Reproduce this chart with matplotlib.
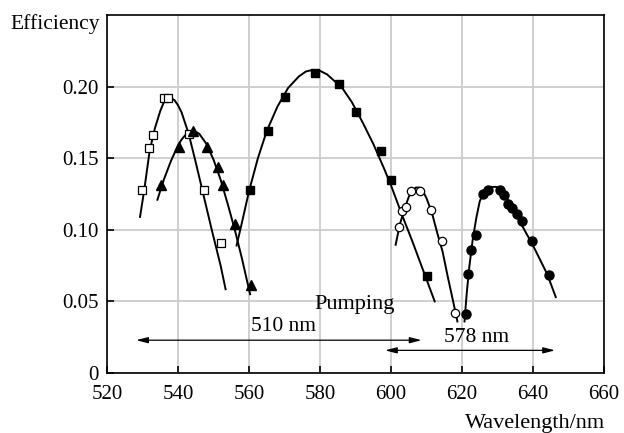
import matplotlib
matplotlib.use("Agg")
import matplotlib.pyplot as plt

plt.rcParams['font.family'] = ['Liberation Serif', 'DejaVu Serif']

# open squares
sq_open_x = [529.9, 531.9, 533.0, 536.1, 537.3, 543.0, 547.2, 552.0]
sq_open_y = [0.128, 0.157, 0.166, 0.192, 0.192, 0.167, 0.128, 0.091]
sq_open_cx = [529.3, 530.5, 532.0, 533.5, 535.0, 536.0, 537.0, 538.0, 539.0, 540.0, 541.0,
              543.0, 545.0, 547.2, 549.5, 552.0, 553.4]
sq_open_cy = [0.109, 0.128, 0.155, 0.171, 0.183, 0.189, 0.1918, 0.192, 0.1905, 0.187, 0.182,
              0.167, 0.147, 0.124, 0.100, 0.075, 0.0585]

# filled triangles
tri_x = [535.3, 540.2, 544.3, 548.3, 551.2, 552.8, 556.0, 560.5]
tri_y = [0.131, 0.158, 0.169, 0.158, 0.144, 0.131, 0.104, 0.0615]
tri_cx = [534.2, 536.0, 538.0, 540.0, 541.0, 542.0, 543.0, 544.0, 545.0, 546.0, 548.0, 550.0,
          552.0, 554.0, 556.0, 558.0, 560.3]
tri_cy = [0.121, 0.135, 0.148, 0.159, 0.163, 0.166, 0.168, 0.169, 0.1685, 0.167, 0.160, 0.149,
          0.135, 0.118, 0.100, 0.080, 0.055]

# filled squares
sq_x = [560.3, 565.3, 570.1, 578.5, 585.3, 590.1, 597.3, 600.0, 610.1]
sq_y = [0.128, 0.169, 0.193, 0.2095, 0.202, 0.1825, 0.155, 0.135, 0.0674]
sq_cx = [556.5, 558.0, 560.0, 562.5, 565.0, 568.0, 571.0, 574.0, 576.0, 578.0, 580.0, 582.0,
         584.0, 586.0, 589.0, 592.0, 595.0, 598.0, 600.0, 603.0, 606.0, 609.0, 612.3]
sq_cy = [0.089, 0.105, 0.127, 0.150, 0.169, 0.186, 0.199, 0.207, 0.2105, 0.2117, 0.211, 0.2085,
         0.204, 0.200, 0.189, 0.175, 0.160, 0.143, 0.131, 0.111, 0.092, 0.072, 0.050]

# open circles
ci_open_x = [602.3, 603.1, 604.1, 605.7, 608.3, 611.2, 614.4, 618.1]
ci_open_y = [0.1017, 0.113, 0.116, 0.127, 0.127, 0.1135, 0.092, 0.042]
ci_open_cx = [601.3, 602.5, 604.0, 605.0, 606.0, 607.0, 608.0, 609.0, 610.0, 611.5, 613.0,
              614.5, 616.0, 617.5, 618.7]
ci_open_cy = [0.0895, 0.104, 0.116, 0.123, 0.1275, 0.1295, 0.1295, 0.127, 0.122, 0.112, 0.098,
              0.085, 0.067, 0.050, 0.036]

# filled circles
ci_x = [621.1, 621.8, 622.6, 623.8, 625.8, 627.2, 630.8, 631.8, 633.0, 634.2, 635.4, 636.8, 639.7, 644.5]
ci_y = [0.041, 0.069, 0.086, 0.0965, 0.125, 0.128, 0.128, 0.124, 0.118, 0.115, 0.111, 0.106, 0.092, 0.0685]
ci_cx = [620.7, 621.3, 622.0, 623.0, 624.0, 625.0, 626.0, 627.0, 628.0, 629.5, 631.0, 632.0,
         634.0, 636.0, 638.0, 640.0, 642.0, 644.0, 646.4]
ci_cy = [0.036, 0.055, 0.073, 0.093, 0.108, 0.120, 0.1255, 0.1285, 0.1298, 0.130, 0.1285, 0.125,
         0.116, 0.107, 0.098, 0.089, 0.079, 0.069, 0.053]

x_ticks = [520, 540, 560, 580, 600, 620, 640, 660]
y_ticks = [0, 0.05, 0.10, 0.15, 0.20]
y_labels = ['0', '0.05', '0.10', '0.15', '0.20']

fig = plt.figure(figsize=(6.24, 4.33), dpi=100)
ax = fig.add_axes([0.1715, 0.1386, 0.7965, 0.8268])

lw = 1.4
for cx, cy in [(sq_open_cx, sq_open_cy), (tri_cx, tri_cy), (sq_cx, sq_cy),
               (ci_open_cx, ci_open_cy), (ci_cx, ci_cy)]:
    ax.plot(cx, cy, color='black', lw=lw, solid_joinstyle='round', zorder=3)

ax.plot(sq_open_x, sq_open_y, 's', ms=5.5, mfc='white', mec='black', mew=0.9, zorder=4)
ax.plot(tri_x, tri_y, '^', ms=7, color='black', zorder=4)
ax.plot(sq_x, sq_y, 's', ms=5.5, color='black', zorder=4)
ax.plot(ci_open_x, ci_open_y, 'o', ms=6, mfc='white', mec='black', mew=0.9, zorder=4)
ax.plot(ci_x, ci_y, 'o', ms=6.5, color='black', zorder=4)

# pumping arrows
arr = dict(arrowstyle='<|-|>,head_length=0.7,head_width=0.18', color='black', lw=0.9,
           shrinkA=0, shrinkB=0)
ax.annotate('', xy=(528.2, 0.0229), xytext=(608.6, 0.0229), arrowprops=arr)
ax.annotate('', xy=(598.3, 0.0158), xytext=(646.2, 0.0158), arrowprops=arr)
ax.text(589.7, 0.048, 'Pumping', fontsize=16, ha='center', va='center')
ax.text(569.6, 0.0325, '510 nm', fontsize=15.5, ha='center', va='center')
ax.text(624.2, 0.0248, '578 nm', fontsize=15.5, ha='center', va='center')

ax.set_xlim(520, 660)
ax.set_ylim(0, 0.25)
ax.set_xticks(x_ticks)
ax.set_yticks(y_ticks)
ax.set_yticklabels(y_labels)
ax.tick_params(direction='in', length=5, width=1.2, labelsize=15)
ax.tick_params(axis='x', pad=9)
ax.tick_params(axis='y', pad=6)
ax.grid(True, color='#cccccc', lw=1.3, zorder=0)
ax.set_axisbelow(True)
for s in ax.spines.values():
    s.set_linewidth(1.2)

fig.text(0.016, 0.933, 'Efficiency', fontsize=15.5, ha='left', va='baseline')
fig.text(0.970, 0.012, 'Wavelength/nm', fontsize=16, ha='right', va='baseline')

fig.savefig('out.png', dpi=100)
